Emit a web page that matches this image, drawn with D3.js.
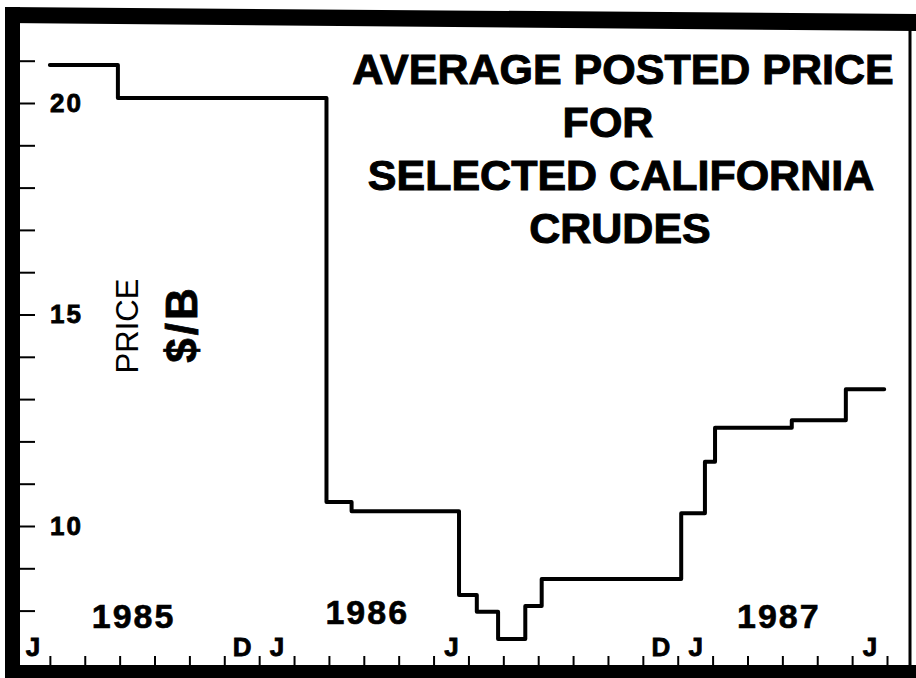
<!DOCTYPE html>
<html>
<head>
<meta charset="utf-8">
<script src="https://cdn.jsdelivr.net/npm/d3@7"></script>
<style>
  body { margin: 0; background: #fff; }
  svg { display: block; }
  text { font-family: "Liberation Sans", Arial, Helvetica, sans-serif; fill: #000; }
</style>
</head>
<body>
<div id="chart"></div>
<script>
// step points: month index counted from 1 June 1985, price in $/B
var stepMonth = [1.0, 2.95, 8.93, 9.65, 12.73, 13.24, 13.85, 14.63, 15.1, 19.1, 19.78, 20.07, 22.27, 23.82, 24.92];
var stepPrice = [20.9, 20.12, 10.57, 10.35, 8.37, 7.97, 7.33, 8.11, 8.75, 10.3, 11.52, 12.32, 12.5, 13.23, 13.23];

// month letters under the axis (month index of the labelled month)
var monthLabelIdx = [0, 6, 7, 12, 18, 19, 24];
var monthLabelTxt = ["J", "D", "J", "J", "D", "J", "J"];

var yearLabels = ["1985", "1986", "1987"];
var yearCenter = [3.4, 10.1, 21.9];

var priceTicks = d3.range(8, 22);
var titleLines = ["AVERAGE POSTED PRICE", "FOR", "SELECTED CALIFORNIA", "CRUDES"];

var width = 916,
    height = 678;

var svg = d3.select("#chart")
  .append("svg")
    .attr("width", width)
    .attr("height", height);

svg.append("rect")
  .attr("width", width)
  .attr("height", height)
  .attr("fill", "#fff");

var x = d3.scaleLinear().domain([0, 25]).range([15, 887]);
var y = d3.scaleLinear().domain([10, 20]).range([526, 103]);

// frame (thick photo-copied border)
svg.append("path")
  .attr("d", "M5,7 L916,14 L916,31 L5,23 Z")
  .attr("fill", "#000");
svg.append("rect")
  .attr("x", 5).attr("y", 7)
  .attr("width", 15).attr("height", 671)
  .attr("fill", "#000");
svg.append("rect")
  .attr("x", 5).attr("y", 665)
  .attr("width", 911).attr("height", 13)
  .attr("fill", "#000");
svg.append("line")
  .attr("x1", 910).attr("x2", 910)
  .attr("y1", 20).attr("y2", 670)
  .attr("stroke", "#000")
  .attr("stroke-width", 3);

// y axis ticks, labels only at 10, 15, 20
var yAxis = d3.axisRight(y)
  .tickValues(priceTicks)
  .tickSize(16)
  .tickPadding(15)
  .tickFormat(function(d) { return d % 5 === 0 ? d : ""; });

var gy = svg.append("g")
  .attr("transform", "translate(19,0)")
  .call(yAxis);
gy.select(".domain").remove();
gy.selectAll(".tick line").attr("stroke", "#000").attr("stroke-width", 2);
gy.selectAll(".tick text")
  .style("font-size", "26px")
  .style("font-weight", "bold")
  .style("letter-spacing", "2px")
  .style("font-family", "'Liberation Sans', Arial, sans-serif")
  .attr("stroke", "#000")
  .attr("stroke-width", 0.8);

// x axis month ticks
var xAxis = d3.axisTop(x)
  .tickValues(d3.range(1, 26))
  .tickSize(10)
  .tickFormat("");

var gx = svg.append("g")
  .attr("transform", "translate(0,666)")
  .call(xAxis);
gx.select(".domain").remove();
gx.selectAll(".tick line").attr("stroke", "#000").attr("stroke-width", 2);

// month letters
var monthAxis = d3.axisTop(x)
  .tickValues(monthLabelIdx.map(function(m) { return m + 0.5; }))
  .tickSize(0)
  .tickPadding(13)
  .tickFormat(function(d, i) { return monthLabelTxt[i]; });

var gm = svg.append("g")
  .attr("transform", "translate(0,666)")
  .call(monthAxis);
gm.select(".domain").remove();
gm.selectAll(".tick text")
  .attr("dy", "0.1em")
  .style("font-size", "26px")
  .style("font-weight", "bold")
  .style("font-family", "'Liberation Sans', Arial, sans-serif")
  .attr("stroke", "#000")
  .attr("stroke-width", 0.8);

// years
svg.selectAll(".year")
  .data(yearLabels)
  .enter()
  .append("text")
    .attr("class", "year")
    .attr("x", function(d, i) { return x(yearCenter[i]); })
    .attr("y", function(d, i) { return i === 1 ? 624 : 628; })
    .attr("text-anchor", "middle")
    .style("font-size", "34px")
    .style("font-weight", "bold")
    .style("letter-spacing", "2px")
    .attr("stroke", "#000")
    .attr("stroke-width", 0.6)
    .text(function(d) { return d; });

// price line
var points = stepMonth.map(function(m, i) { return [m, stepPrice[i]]; });
var line = d3.line()
  .x(function(d) { return x(d[0]); })
  .y(function(d) { return y(d[1]); })
  .curve(d3.curveStepAfter);

svg.append("path")
  .datum(points)
  .attr("d", line)
  .attr("fill", "none")
  .attr("stroke", "#000")
  .attr("stroke-width", 4)
  .attr("stroke-linejoin", "round")
  .attr("stroke-linecap", "round");

// y axis title
svg.append("text")
  .attr("transform", "translate(138,326) rotate(-90)")
  .attr("text-anchor", "middle")
  .style("font-size", "31px")
  .text("PRICE");

svg.append("text")
  .attr("transform", "translate(197,324) rotate(-90)")
  .attr("text-anchor", "middle")
  .style("font-size", "44px")
  .style("font-weight", "bold")
  .style("letter-spacing", "3px")
  .attr("stroke", "#000")
  .attr("stroke-width", 0.8)
  .text("$/B");

// chart title
var titleX = [623, 608, 621, 620];
svg.selectAll(".title")
  .data(titleLines)
  .enter()
  .append("text")
    .attr("class", "title")
    .attr("x", function(d, i) { return titleX[i]; })
    .attr("y", function(d, i) { return 84 + i * 53; })
    .attr("text-anchor", "middle")
    .style("font-size", "43px")
    .style("font-weight", "bold")
    .attr("stroke", "#000")
    .attr("stroke-width", 1)
    .text(function(d) { return d; });
</script>
</body>
</html>
